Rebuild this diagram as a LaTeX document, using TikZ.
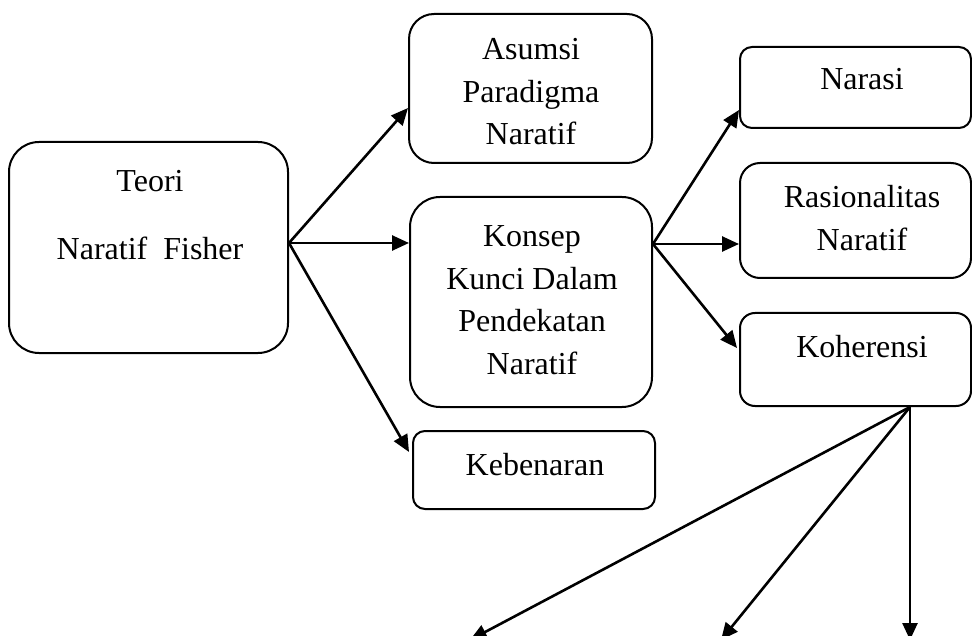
\documentclass[tikz,border=0pt]{standalone}
\usepackage{fontspec}
\setmainfont{Liberation Serif}
\usetikzlibrary{arrows.meta}
\begin{document}
\begin{tikzpicture}[x=1pt,y=-1pt,
  box/.style={draw, line width=2pt, rectangle, inner sep=0pt},
  txt/.style={inner sep=0pt, anchor=base, font=\fontsize{32}{42.5}\selectfont},
  conn/.style={line width=2.6pt, -{Triangle[length=17pt,width=15pt]}}]
\useasboundingbox (0,0) rectangle (972,636);
% boxes
\node[box, rounded corners=30pt, minimum width=279pt, minimum height=211pt] (teori) at (148.5,247.5) {};
\node[box, rounded corners=25pt, minimum width=243pt, minimum height=149pt] (asumsi) at (530.5,88.5) {};
\node[box, rounded corners=30pt, minimum width=242pt, minimum height=210pt] (konsep) at (531,302) {};
\node[box, rounded corners=12pt, minimum width=242pt, minimum height=78pt] (keben) at (534,470) {};
\node[box, rounded corners=12pt, minimum width=231pt, minimum height=81pt] (narasi) at (855.5,87.5) {};
\node[box, rounded corners=20pt, minimum width=231pt, minimum height=115pt] (rasio) at (855.5,220.5) {};
\node[box, rounded corners=15pt, minimum width=231pt, minimum height=93pt] (koh) at (855.5,359.5) {};
% texts
\node[txt] (tteori) at (150,192) {\begin{tabular}[t]{@{}c@{}}Teori\\[25.5pt]Naratif\ \ Fisher\end{tabular}};
\node[txt] (tasumsi) at (531,60) {\begin{tabular}[t]{@{}c@{}}Asumsi\\Paradigma\\Naratif\end{tabular}};
\node[txt] (tkonsep) at (532,247) {\begin{tabular}[t]{@{}c@{}}Konsep\\Kunci Dalam\\Pendekatan\\Naratif\end{tabular}};
\node[txt] (tkeben) at (535,475) {Kebenaran};
\node[txt] (tnarasi) at (862,90) {Narasi};
\node[txt] (trasio) at (862,208) {\begin{tabular}[t]{@{}c@{}}Rasionalitas\\Naratif\end{tabular}};
\node[txt] (tkoh) at (862,357) {Koherensi};
% free ends
\coordinate (e1) at (470,640);
\coordinate (e2) at (721,640);
\coordinate (e3) at (910,640);
% connectors
\draw[conn] ([yshift=4.5pt]teori.east) -- ([yshift=-19.5pt]asumsi.west);
\draw[conn] ([yshift=4.5pt]teori.east) -- ([yshift=59pt]konsep.west);
\draw[conn] ([yshift=4.5pt]teori.east) -- ([shift={(-3pt,18pt)}]keben.west);
\draw[conn] ([yshift=58pt]konsep.east) -- ([yshift=-22.5pt]narasi.west);
\draw[conn] ([yshift=58pt]konsep.east) -- ([yshift=-23.5pt]rasio.west);
\draw[conn] ([yshift=58pt]konsep.east) -- ([shift={(-2pt,11.5pt)}]koh.west);
\draw[conn] ([xshift=54.5pt]koh.south) -- (e1);
\draw[conn] ([xshift=54.5pt]koh.south) -- (e2);
\draw[conn] ([xshift=54.5pt]koh.south) -- (e3);
\end{tikzpicture}
\end{document}
